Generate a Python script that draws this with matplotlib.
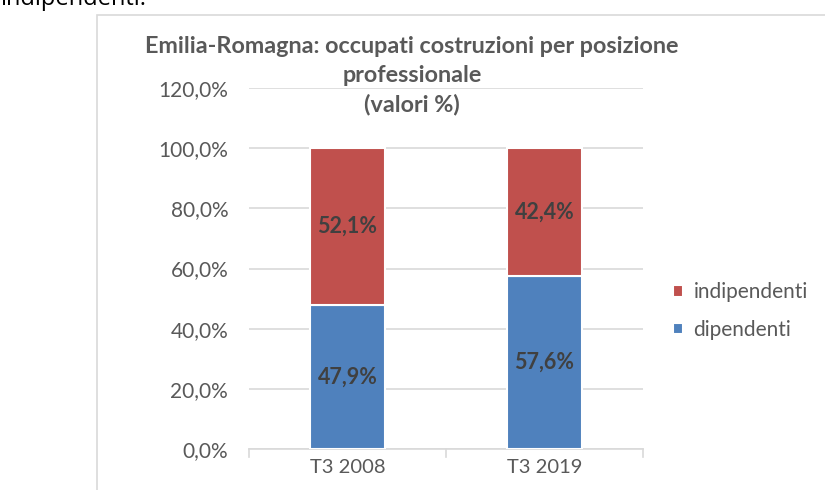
import matplotlib.pyplot as plt
from matplotlib.patches import Rectangle
from matplotlib.ticker import FuncFormatter

categories = ['T3 2008', 'T3 2019']
dipendenti = [47.9, 57.6]
indipendenti = [52.1, 42.4]
series_names = ['dipendenti', 'indipendenti']
colors = ['#4F81BD', '#C0504D']

plt.rcParams['font.family'] = ['Lato', 'DejaVu Sans']

fig = plt.figure(figsize=(8.25, 4.9), dpi=100)

# chart frame (cut by the image edges) and text above it
fig.patches.append(Rectangle((97 / 825, -0.1), 1.0, 1 - 15 / 490 + 0.1,
                             transform=fig.transFigure, fill=False,
                             edgecolor='#D9D9D9', linewidth=1.2))
fig.text(0.0, 1 - 5 / 490, 'indipendenti.', fontsize=17, color='black',
         ha='left', va='baseline', family=['Open Sans', 'DejaVu Sans'])

ax = fig.add_axes([249 / 825, 1 - 449 / 490, 394 / 825, 361 / 490])

x = range(len(categories))
b1 = ax.bar(x, dipendenti, width=0.38, color=colors[0], edgecolor='white',
            linewidth=1.5, label=series_names[0], zorder=3)
b2 = ax.bar(x, indipendenti, width=0.38, bottom=dipendenti, color=colors[1],
            edgecolor='white', linewidth=1.5, label=series_names[1], zorder=3)

for bars in (b1, b2):
    labels = [('%.1f%%' % v).replace('.', ',') for v in bars.datavalues]
    ax.bar_label(bars, labels=labels, label_type='center', fontsize=15.5,
                 fontweight='bold', color='#404040')

ax.set_xlim(-0.5, 1.5)
ax.set_ylim(0, 120)
ax.set_yticks(range(0, 121, 20))
ax.yaxis.set_major_formatter(FuncFormatter(lambda v, p: ('%.1f%%' % v).replace('.', ',')))
ax.set_xticks(list(x))
ax.set_xticklabels(categories)
ax.grid(axis='y', color='#D9D9D9', linewidth=1.2, zorder=0)
for s in ['top', 'right', 'left']:
    ax.spines[s].set_visible(False)
ax.spines['bottom'].set_color('#D9D9D9')
ax.spines['bottom'].set_linewidth(1.2)
ax.tick_params(axis='y', length=0, labelsize=15, labelcolor='#595959', pad=15)
ax.tick_params(axis='x', length=0, labelsize=14.5, labelcolor='#595959', pad=7)
for xb in (-0.5, 0.5, 1.5):
    ax.plot([xb, xb], [0, -2.5], color='#D9D9D9', linewidth=1.2, clip_on=False)

fig.text(412 / 825, 1 - 76 / 490,
         'Emilia-Romagna: occupati costruzioni per posizione\nprofessionale\n(valori %)',
         ha='center', va='center', fontsize=16.8, fontweight='bold',
         color='#595959', linespacing=1.45)

handles, lbls = ax.get_legend_handles_labels()
fig.legend(handles[::-1], lbls[::-1], loc='center left',
           bbox_to_anchor=(654 / 825, 1 - 311 / 490), frameon=False,
           fontsize=15, labelcolor='#595959', handlelength=0.5,
           handleheight=0.5, handletextpad=0.5, labelspacing=0.85)

fig.savefig('out.png', dpi=100)
